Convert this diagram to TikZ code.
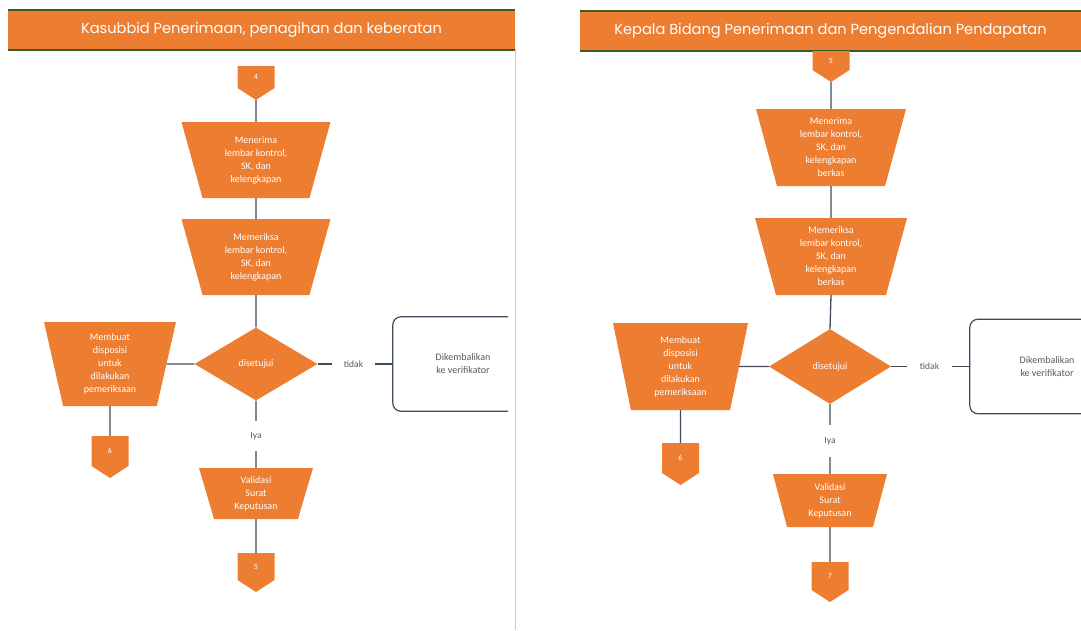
\documentclass[tikz,border=0pt]{standalone}
\usepackage{fontspec}
\setmainfont{Carlito}
\newfontfamily\headfont{Poppins}
\usetikzlibrary{shapes.geometric,calc}
\definecolor{orng}{HTML}{ED7D31}
\definecolor{grn}{HTML}{3C5A2A}
\definecolor{wire}{HTML}{3F4A5A}
\definecolor{note}{HTML}{595959}
\definecolor{sep}{HTML}{C8C8C8}

% off-page connector: name, centre x, top y, total height, label
\newcommand{\offpage}[5]{%
  \fill[orng] (#2-18.5,#3) -- (#2+18.5,#3) -- (#2+18.5,#3+#4-12) -- (#2,#3+#4)
              -- (#2-18.5,#3+#4-12) -- cycle;
  \node[opg, minimum height=#4] (#1) at (#2,#3+#4/2) {};
  \node[opgtext] (#1-t) at (#2,#3+#4/2-6) {#5};
}

\begin{document}
\begin{tikzpicture}[x=1pt,y=-1pt,
  bar/.style={rectangle, fill=orng, text=white, inner sep=0,
              font=\headfont\fontsize{14.6}{16}\selectfont},
  proc/.style={trapezium, trapezium stretches body, shape border rotate=180,
               fill=orng, text=white, align=center, inner sep=1pt,
               font=\fontsize{10}{13}\selectfont},
  decide/.style={diamond, fill=orng, text=white, inner sep=0,
                 font=\fontsize{10}{12}\selectfont},
  opg/.style={rectangle, draw=none, minimum width=37pt, inner sep=0},
  opgtext/.style={text=white, inner sep=0, font=\fontsize{8}{9}\selectfont},
  lbl/.style={text=note, inner sep=0, font=\fontsize{9.5}{10}\selectfont},
  term/.style={rectangle, draw=none, text=note, align=center, inner sep=0,
               font=\fontsize{10}{13}\selectfont},
  wire/.style={draw=wire, line width=1.3pt},
  rim/.style={draw=wire, line width=1.2pt, rounded corners=8pt}
]
\useasboundingbox (0,0) rectangle (1081,630);

% ---------- panel separator ----------
\coordinate (sepTop) at (515,49);
\coordinate (sepBot) at (515,630);
\draw[sep, line width=0.8pt] (sepTop) -- (sepBot);

% ---------- header bars ----------
\node[bar, minimum width=507pt, minimum height=39pt] (barL) at (261.5,30)
  {Kasubbid Penerimaan, penagihan dan keberatan};
\draw[grn, line width=2pt] (barL.north west) -- (barL.north east);
\draw[grn, line width=2pt] (barL.south west) -- (barL.south east);

\node[bar, minimum width=501pt, minimum height=40pt] (barR) at (830.5,31)
  {Kepala Bidang Penerimaan dan Pengendalian Pendapatan};
\draw[grn, line width=2pt] (barR.north west) -- (barR.north east);
\draw[grn, line width=2pt] (barR.south west) -- (barR.south east);

% ================= left lane =================
\offpage{inL}{256}{66}{34}{4}
\node[proc, minimum width=149pt, minimum height=76pt, trapezium angle=67] (recvL) at (256,160)
  {Menerima\\lembar kontrol,\\SK, dan\\kelengkapan};
\node[proc, minimum width=149pt, minimum height=76pt, trapezium angle=67] (chkL) at (256,257)
  {Memeriksa\\lembar kontrol,\\SK, dan\\kelengkapan};
\node[decide, minimum width=123pt, minimum height=73pt] (okL) at (256,364) {disetujui};
\node[proc, minimum width=132pt, minimum height=84pt, trapezium angle=73] (dispL) at (110,364)
  {Membuat\\disposisi\\untuk\\dilakukan\\pemeriksaan};
\offpage{outL6}{110}{436}{42}{6}
\node[lbl, minimum height=30pt] (yesL) at (256,436) {Iya};
\node[proc, minimum width=114pt, minimum height=51pt, trapezium angle=67.6] (valL) at (256,493.5)
  {Validasi\\Surat\\Keputusan};
\offpage{outL5}{256}{553}{39}{5}
\node[lbl, minimum width=43pt] (noL) at (353.5,364) {tidak};
\node[term, minimum width=140pt, minimum height=94pt] (backL) at (463,364)
  {Dikembalikan\\ke verifikator};
\coordinate (backLend) at (508,0);

\draw[wire] (inL.south) -- (recvL.north);
\draw[wire] (recvL.south) -- (chkL.north);
\draw[wire] (chkL.south) -- (okL.north);
\draw[wire] (okL.west) -- (dispL.east);
\draw[wire] (dispL.south) -- (outL6.north);
\draw[wire] (okL.south) -- (yesL) -- (valL.north);
\draw[wire] (valL.south) -- (outL5.north);
\draw[wire] (okL.east) -- (noL) -- (backL.west);
\draw[rim] (backL.north west -| backLend) -- (backL.north west)
           -- (backL.south west) -- (backL.south west -| backLend);

% ================= right lane =================
\offpage{inR}{831}{51}{31}{5}
\node[proc, minimum width=150pt, minimum height=77pt, trapezium angle=71] (recvR) at (831,147.5)
  {Menerima\\lembar kontrol,\\SK, dan\\kelengkapan\\berkas};
\node[proc, minimum width=152pt, minimum height=77pt, trapezium angle=71] (chkR) at (831,256.5)
  {Memeriksa\\lembar kontrol,\\SK, dan\\kelengkapan\\berkas};
\node[decide, minimum width=122pt, minimum height=75pt] (okR) at (830,366.5) {disetujui};
\node[proc, minimum width=135pt, minimum height=87pt, trapezium angle=74] (dispR) at (680.5,366.5)
  {Membuat\\disposisi\\untuk\\dilakukan\\pemeriksaan};
\offpage{outR6}{680.5}{443}{42}{6}
\node[lbl, minimum height=32pt] (yesR) at (830,441) {Iya};
\node[proc, minimum width=114pt, minimum height=53pt, trapezium angle=69] (valR) at (830,500.5)
  {Validasi\\Surat\\Keputusan};
\offpage{outR7}{830}{562}{40}{7}
\node[lbl, minimum width=45pt] (noR) at (929.5,366.5) {tidak};
\node[term, minimum width=154pt, minimum height=94pt] (backR) at (1047,366.5)
  {Dikembalikan\\ke verifikator};
\coordinate (backRend) at (1081,0);

\draw[wire] (inR.south) -- (recvR.north);
\draw[wire] (recvR.south) -- (chkR.north);
\draw[wire] (chkR.south) -- (okR.north);
\draw[wire] (okR.west) -- (dispR.east);
\draw[wire] (dispR.south) -- (outR6.north);
\draw[wire] (okR.south) -- (yesR) -- (valR.north);
\draw[wire] (valR.south) -- (outR7.north);
\draw[wire] (okR.east) -- (noR) -- (backR.west);
\draw[rim] (backR.north west -| backRend) -- (backR.north west)
           -- (backR.south west) -- (backR.south west -| backRend);
\end{tikzpicture}
\end{document}
